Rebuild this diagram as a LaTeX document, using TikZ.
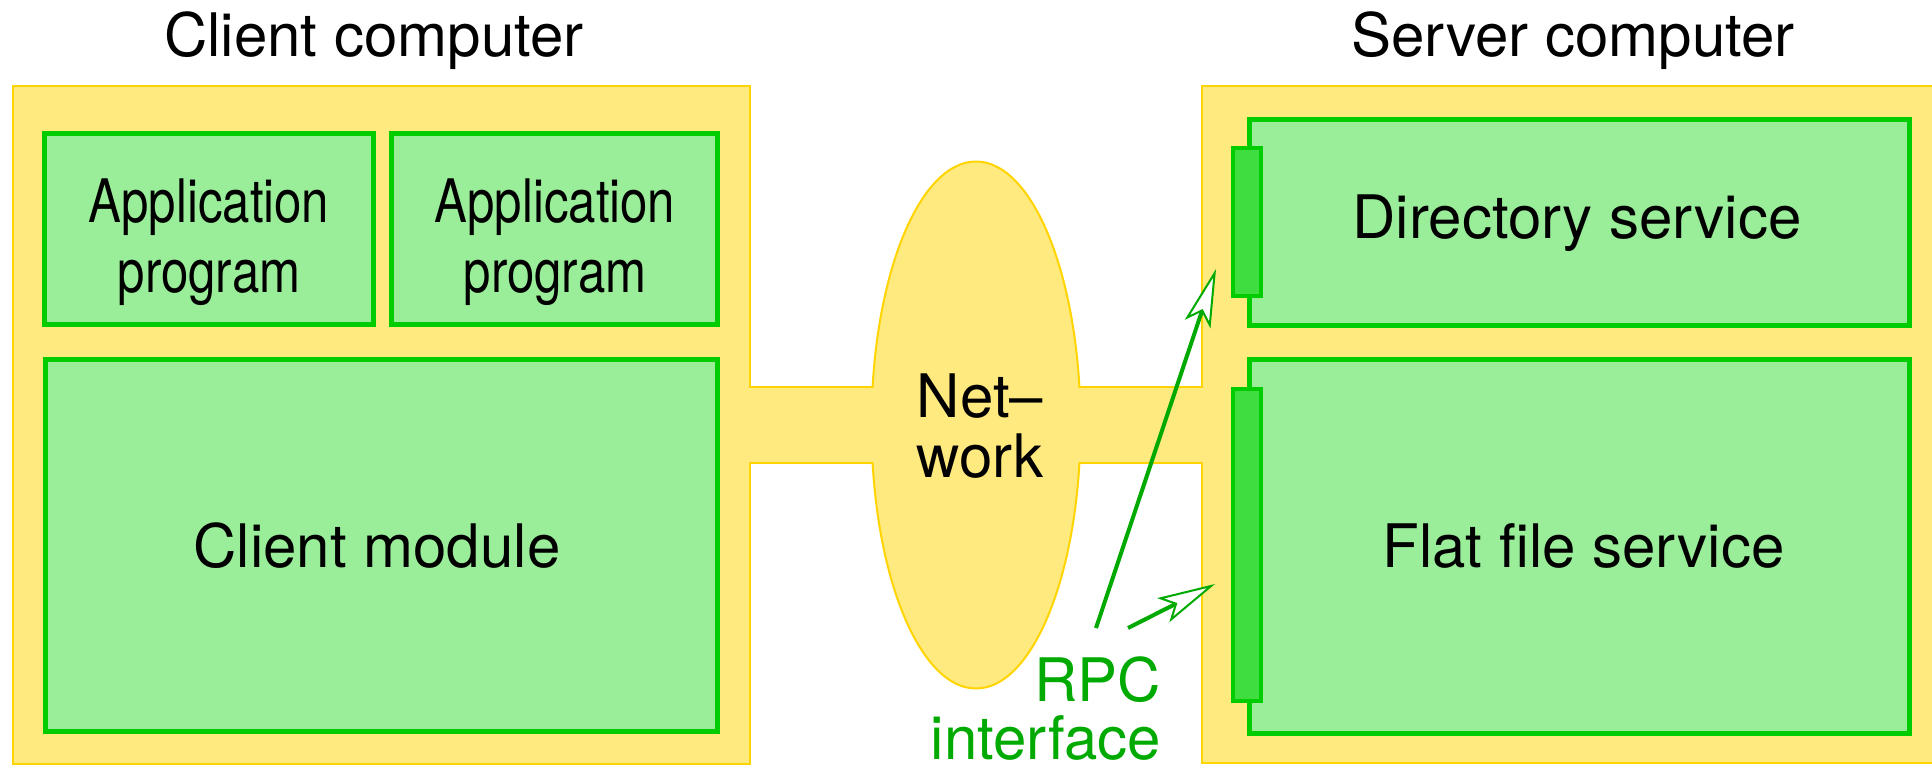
\documentclass[tikz,border=0pt]{standalone}
\usepackage{fontspec}
\setmainfont{TeX Gyre Heros}
\newfontfamily\condfont[FakeStretch=0.82]{TeX Gyre Heros}
\usetikzlibrary{arrows.meta,shapes.geometric}
\definecolor{yfill}{HTML}{FFEA80}
\definecolor{yline}{HTML}{FFD400}
\definecolor{gfill}{HTML}{9AEE9A}
\definecolor{gline}{HTML}{00CC00}
\definecolor{ifill}{HTML}{40DD40}
\definecolor{adark}{HTML}{00AA00}
\begin{document}
\begin{tikzpicture}[x=1pt,y=-1pt,
  big/.style={font=\fontsize{60}{70}\selectfont,inner sep=0pt},
  yshape/.style={fill=yfill,draw=yline,line width=2pt,inner sep=0pt},
  gbox/.style={fill=gfill,draw=gline,line width=4.5pt,inner sep=0pt,font=\fontsize{60}{70}\selectfont,align=center},
  ifbox/.style={fill=ifill,draw=gline,line width=4.5pt,inner sep=0pt,minimum width=28pt},
  rpcarrow/.style={draw=adark,line width=4pt,-{Stealth[length=58pt,width=27pt,inset=13pt,fill=white,line width=2pt]}}
]
\useasboundingbox (0,0) rectangle (1932,766);
% yellow computers and network
\node[yshape,minimum width=737pt,minimum height=678pt] (client) at (381.5,425) {};
\node[yshape,minimum width=760pt,minimum height=677pt] (server) at (1582,424.5) {};
\draw[yline,line width=2pt] (client.east |- 0,387) -- (server.west |- 0,387);
\draw[yline,line width=2pt] (client.east |- 0,463) -- (server.west |- 0,463);
\node[yshape,ellipse,minimum width=209pt,minimum height=527pt] (net) at (976,425) {};
\fill[yfill] (747,388.2) rectangle (1205,461.8);
\node[big,align=center,font=\fontsize{60}{60}\selectfont] (nettxt) at (980,426.5) {Net–\\work};
% titles
\node[big,anchor=base] (ctitle) at (374,56) {Client computer};
\node[big,anchor=base] (stitle) at (1573,56) {Server computer};
% client boxes
\node[gbox,minimum width=329pt,minimum height=191pt] (app1) at (209,229) {};
\node[big,align=center] (app1t) at (209,242) {\condfont Application\\\condfont program};
\node[gbox,minimum width=326pt,minimum height=191pt] (app2) at (554.5,229) {};
\node[big,align=center] (app2t) at (555,242) {\condfont Application\\\condfont program};
\node[gbox,minimum width=672pt,minimum height=372pt] (cmod) at (381.5,545.5) {};
\node[big,anchor=base] (cmodt) at (377,567) {Client module};
% server boxes
\node[gbox,minimum width=660pt,minimum height=206pt] (dir) at (1579.5,222.5) {};
\node[big,anchor=base] (dirt) at (1577,238) {Directory service};
\node[ifbox,minimum height=148pt] (dirif) at (1247,222) {};
\node[gbox,minimum width=660pt,minimum height=374pt] (flat) at (1579.5,546.5) {};
\node[big,anchor=base] (flatt) at (1583.5,567) {Flat file service};
\node[ifbox,minimum height=312pt] (flatif) at (1247,545) {};
% RPC interface
\node[big,align=right,anchor=east,text=adark,font=\fontsize{60}{58}\selectfont] (rpc) at (1161,709) {RPC\\interface};
\coordinate (a1s) at (1096,628);
\coordinate (a1e) at (1216,269);
\coordinate (a2s) at (1128,628);
\coordinate (a2e) at (1215,584);
\draw[rpcarrow] (a1s) -- (a1e);
\draw[rpcarrow] (a2s) -- (a2e);
\end{tikzpicture}
\end{document}
